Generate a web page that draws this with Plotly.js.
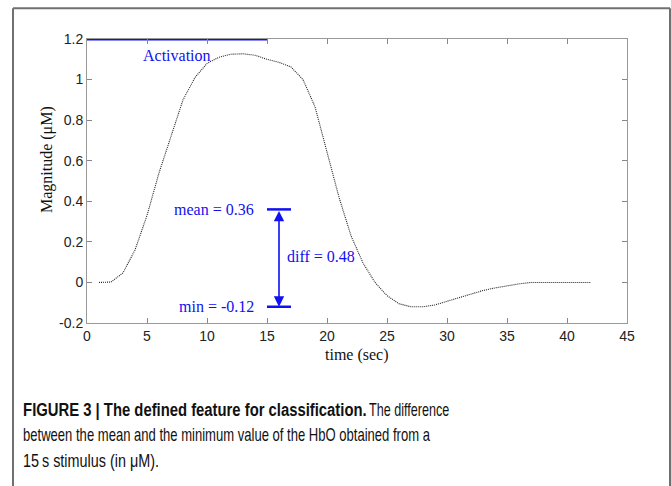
<!DOCTYPE html>
<html>
<head>
<meta charset="utf-8">
<script src="https://cdn.plot.ly/plotly-3.0.1.min.js"></script>
<style>html,body{margin:0;padding:0;background:#fff;}#chart{width:671px;height:486px;}</style>
</head>
<body>
<div id="chart"></div>
<script>
// HbO response (µM) sampled each second
const timeSec = [1,2,3,4,5,6,7,8,9,10,11,12,13,14,15,16,17,18,19,20,21,22,23,24,25,26,27,28,29,30,31,32,33,34,35,36,37,38,39,40,41,42];
const hbo = [0,0.002,0.047,0.16,0.33,0.54,0.72,0.9,1.01,1.08,1.11,1.125,1.127,1.12,1.1,1.085,1.062,1.0,0.866,0.64,0.42,0.23,0.096,0.0,-0.065,-0.105,-0.12,-0.12,-0.111,-0.093,-0.075,-0.056,-0.04,-0.027,-0.016,-0.007,0,0,0,0,0,0];
const activationX = [0, 15];
const activationY = [1.2, 1.2];
const meanValue = 0.36;
const minValue = -0.12;
const diffValue = 0.48;
const markerX = [15, 17];
const arrowX = 16;
const xTicks = [0,5,10,15,20,25,30,35,40,45];
const yTicks = [-0.2,0,0.2,0.4,0.6,0.8,1,1.2];
const yTickText = ['-0.2','0','0.2','0.4','0.6','0.8','1','1.2'];
const captionBold = 'FIGURE 3 | The defined feature for classification.';
const captionLines = ['The difference', 'between the mean and the minimum value of the HbO obtained from a', '15\u2009s stimulus (in μM).'];

const blue = '#1010f0';
const serif = 'Liberation Serif, Times New Roman, serif';
const sans = 'Liberation Sans, Arial, sans-serif';

const traces = [
  {x: timeSec, y: hbo, mode: 'lines', line: {color: '#222', width: 1.1, dash: '1px,1px'}, hoverinfo: 'skip'},
  {x: activationX, y: activationY, mode: 'lines', line: {color: blue, width: 3}, cliponaxis: false},
  {x: markerX, y: [meanValue, meanValue], mode: 'lines', line: {color: blue, width: 2.5}},
  {x: markerX, y: [minValue, minValue], mode: 'lines', line: {color: blue, width: 2.5}}
];

// plot area px: x 87..627, y 38.7..323.3
const L = 87, R = 627, T = 38.7, B = 323.3;
const px = v => (v - L) / (R - L);
const py = v => (B - v) / (B - T);

const capFont = {family: sans, size: 18, color: '#111'};
const cap = (x, y, text) => ({x: px(x), y: py(y), xref: 'paper', yref: 'paper', xanchor: 'left', yanchor: 'middle', showarrow: false, text: text, font: capFont});

const layout = {
  width: 671, height: 486,
  margin: {l: L, r: 671 - R, t: T, b: 486 - B},
  showlegend: false,
  paper_bgcolor: '#fff', plot_bgcolor: '#fff',
  xaxis: {range: [0, 45], tickvals: xTicks, ticks: 'inside', ticklen: 5, tickcolor: '#888',
    showline: true, linecolor: '#999', linewidth: 1, mirror: 'ticks', showgrid: false, zeroline: false,
    tickfont: {family: sans, size: 14, color: '#222'}},
  yaxis: {range: [-0.2, 1.2], tickvals: yTicks, ticktext: yTickText, ticks: 'inside', ticklen: 5, tickcolor: '#888',
    showline: true, linecolor: '#999', linewidth: 1, mirror: 'ticks', showgrid: false, zeroline: false,
    tickfont: {family: sans, size: 14, color: '#222'}},
  shapes: [
    {type: 'line', xref: 'paper', yref: 'paper', x0: px(13), x1: px(13), y0: py(8), y1: py(490), line: {color: '#707070', width: 2}},
    {type: 'line', xref: 'paper', yref: 'paper', x0: px(13), x1: px(670), y0: py(8), y1: py(8), line: {color: '#707070', width: 2}},
    {type: 'line', xref: 'paper', yref: 'paper', x0: px(670), x1: px(670), y0: py(8), y1: py(490), line: {color: '#707070', width: 2}}
  ],
  annotations: [
    {x: arrowX, y: minValue, ax: arrowX, ay: meanValue, xref: 'x', yref: 'y', axref: 'x', ayref: 'y',
     showarrow: true, arrowhead: 2, arrowside: 'end+start', arrowsize: 1.3, arrowwidth: 1.6, arrowcolor: blue, text: ''},
    {x: 4.5, y: 1.12, xref: 'x', yref: 'y', text: 'Activation', showarrow: false, xanchor: 'left', yanchor: 'middle',
     font: {family: serif, size: 16, color: blue}},
    {x: 14.1, y: meanValue, xref: 'x', yref: 'y', text: 'mean = ' + meanValue.toFixed(2), showarrow: false, xanchor: 'right', yanchor: 'middle',
     font: {family: serif, size: 16, color: blue}},
    {x: 14.1, y: minValue, xref: 'x', yref: 'y', text: 'min = ' + minValue.toFixed(2), showarrow: false, xanchor: 'right', yanchor: 'middle',
     font: {family: serif, size: 16, color: blue}},
    {x: 16.5, y: 0.13, xref: 'x', yref: 'y', text: 'diff = ' + diffValue.toFixed(2), showarrow: false, xanchor: 'left', yanchor: 'middle',
     font: {family: serif, size: 16, color: blue}},
    {x: px(357), y: py(355), xref: 'paper', yref: 'paper', xanchor: 'center', yanchor: 'middle', text: 'time (sec)', showarrow: false,
     font: {family: serif, size: 16, color: '#111'}},
    {x: px(47), y: py(160), xref: 'paper', yref: 'paper', xanchor: 'center', yanchor: 'middle', text: 'Magnitude (μM)', showarrow: false, textangle: -90,
     font: {family: serif, size: 16, color: '#111'}},
    cap(21, 410, '<b>' + captionBold + '</b>'),
    cap(367, 410, captionLines[0]),
    cap(21, 436, captionLines[1]),
    cap(21, 462, captionLines[2])
  ]
};

// horizontal condensing of the caption (reference uses a condensed typeface)
const capScale = {7: 0.824, 8: 0.70, 9: 0.725, 10: 0.80};

Plotly.newPlot('chart', traces, layout, {displayModeBar: false, staticPlot: true}).then(gd => {
  const anns = gd.querySelectorAll('g.annotation');
  anns.forEach((g, i) => {
    if (capScale[i] === undefined) return;
    const t = g.querySelector('text.annotation-text');
    if (!t) return;
    t.style.transformBox = 'fill-box';
    t.style.transformOrigin = '0% 50%';
    t.style.transform = 'scaleX(' + capScale[i] + ')';
  });
});
</script>
</body>
</html>
